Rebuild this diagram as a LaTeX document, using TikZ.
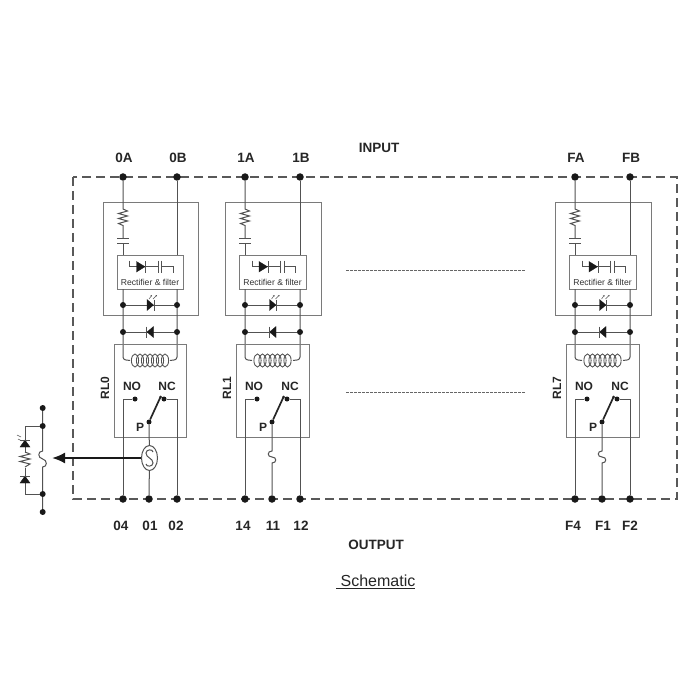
\documentclass[tikz,border=0pt]{standalone}
\usepackage{fontspec}
\setmainfont{Liberation Sans}
\usetikzlibrary{calc,arrows.meta,shapes.geometric}
\tikzset{
  wire/.style={draw=black!68,line width=1pt},
  boxs/.style={draw=black!52,line width=0.9pt},
  dot/.style={circle,fill=black!90,inner sep=0pt,minimum size=#1},
  dot/.default=7.5pt,
  lab/.style={font=\bfseries\fontsize{13.5}{15}\selectfont,text=black!85,inner sep=0pt},
  rel/.style={font=\bfseries\fontsize{12}{14}\selectfont,text=black!85,inner sep=0pt},
  tiny/.style={font=\fontsize{8.6}{10}\selectfont,text=black!80,inner sep=0pt},
  dash1/.style={draw=black!65,line width=1.2pt,dash pattern=on 9pt off 5pt},
  thin1/.style={draw=black!60,line width=0.6pt,dash pattern=on 2.5pt off 1.5pt},
  dtri/.style={fill=black!90,draw=black!90,line width=0.3pt}
}
\newcommand{\relaycol}[9]{%
  \pgfmathsetmacro{\xl}{#2-20}\pgfmathsetmacro{\xr}{#3+21}
  \pgfmathsetmacro{\xc}{(#2+#3)/2}
  \node[dot] (#1a) at (#2,177) {};
  \node[dot] (#1b) at (#3,177) {};
  \node[lab] at (#2+1,158) {#6};
  \node[lab] at (#3+1,158) {#7};
  \draw[boxs] (\xl,202) rectangle (\xr,315);
  \draw[wire] (#1a) -- (#2,209) -- (#2+4.5,211) -- (#2-4.5,213.5) -- (#2+4.5,216) -- (#2-4.5,218.5) -- (#2+4.5,221) -- (#2-4.5,223.5) -- (#2,225.5) -- (#2,239);
  \draw[wire] (#2-6,239) -- (#2+6,239) (#2-6,244) -- (#2+6,244);
  \draw[wire] (#2,244) -- (#2,255);
  \draw[wire] (#1b) -- (#3,255);
  \draw[boxs,fill=white] (#2-6,255) rectangle (#3+6,289);
  \draw[wire] (\xc-20.5,260.5) -- (\xc-20.5,266.7) -- (\xc+8,266.7) (\xc+11.5,266.7) -- (\xc+23,266.7) -- (\xc+23,273);
  \fill[dtri] (\xc-13.5,261.5) -- (\xc-5,266.7) -- (\xc-13.5,272) -- cycle;
  \draw[wire] (\xc-4.5,261) -- (\xc-4.5,272.5);
  \draw[wire] (\xc+8,260.5) -- (\xc+8,273) (\xc+11.5,260.5) -- (\xc+11.5,273);
  \node[tiny] at (\xc,282) {Rectifier \& filter};
  \draw[wire] (#2,289) -- (#2,357) to[out=-90,in=180] (#2+7,360.5);
  \draw[wire] (#3,289) -- (#3,357) to[out=-90,in=0] (#3-7,360.5);
  \node[dot=6pt] (#1la) at (#2,305) {};
  \node[dot=6pt] (#1lb) at (#3,305) {};
  \draw[wire] (#1la) -- (#1lb);
  \fill[dtri] (\xc-3,299.5) -- (\xc+3.5,305) -- (\xc-3,310.5) -- cycle;
  \draw[wire] (\xc+4,299.5) -- (\xc+4,310.5);
  \draw[wire,-{Stealth[length=1.6pt,width=1.6pt]},line width=0.5pt] (\xc-1,299) -- (\xc+2,295);
  \draw[wire,-{Stealth[length=1.6pt,width=1.6pt]},line width=0.5pt] (\xc+3,299) -- (\xc+7,295);
  \node[dot=6pt] (#1da) at (#2,332) {};
  \node[dot=6pt] (#1db) at (#3,332) {};
  \draw[wire] (#1da) -- (#1db);
  \fill[dtri] (\xc+3.5,326.5) -- (\xc-3,332) -- (\xc+3.5,337.5) -- cycle;
  \draw[wire] (\xc-3.5,326.5) -- (\xc-3.5,337.5);
  \draw[boxs] (#2-9,344) rectangle (#3+9,437);
  \foreach \i in {0,...,6} \draw[wire,line width=0.85pt] (\xc-15+\i*5,360.5) ellipse (3.6pt and 6.5pt);
  \node[rel] at (#2+9,386) {NO};
  \node[rel] at (#3-10,386) {NC};
  \node[rel,rotate=90] at (#2-18,388) {#5};
  \node[rel] at (#4-9,427) {P};
  \node[dot=5pt] (#1no) at (#2+12,399) {};
  \node[dot=5pt] (#1nc) at (#3-13,399) {};
  \node[dot=5pt] (#1p) at (#4,422) {};
  \coordinate (#1m) at (#4+11.5,397);
  \draw[wire] (#1no) -- (#2,399);
  \draw[wire] (#1nc) -- (#3,399);
  \draw[black!85,line width=1.7pt] (#1p) -- (#1m);
  \fill[black!85] (#1m) circle (1.5pt);
  \node[dot] (#1ba) at (#2,499) {};
  \node[dot] (#1bp) at (#4,499) {};
  \node[dot] (#1bb) at (#3,499) {};
  \draw[wire] (#2,399) -- (#1ba);
  \draw[wire] (#3,399) -- (#1bb);
  \node[lab] at (#2-2,526) {#8};
  \node[lab] at (#4+1,526) {#9};
}
\begin{document}
\begin{tikzpicture}[x=1pt,y=-1pt]
\useasboundingbox (0,0) rectangle (700,700);
\fill[white] (0,0) rectangle (700,700);
\draw[dash1] (73,177) rectangle (677,499);
\node[lab] at (379,148) {INPUT};
\node[lab] at (376,544.5) {OUTPUT};
\relaycol{c}{123}{177}{149}{RL0}{0A}{0B}{04}{01}
\node[lab] at (176,526) {02};
\relaycol{d}{245}{300}{272}{RL1}{1A}{1B}{14}{11}
\node[lab] at (301,526) {12};
\relaycol{e}{575}{630}{602}{RL7}{FA}{FB}{F4}{F1}
\node[lab] at (630,526) {F2};
\node[draw=black!68,line width=1pt,fill=white,ellipse,minimum width=16pt,minimum height=25pt,inner sep=0pt] (sens) at (149.5,458) {};
\draw[wire] (cp) -- (sens);
\draw[wire] (sens) -- (cbp);
\draw[wire] (153,452) .. controls (153,449) and (146,449) .. (146,453) .. controls (146,458) and (153,458) .. (153,463) .. controls (153,467) and (146,467) .. (146,464);
\foreach \n/\x in {d/272,e/602}{
  \draw[wire] (\n p) -- (\x,451) .. controls (\x-5,451) and (\x-5,457) .. (\x,457) .. controls (\x+5,457) and (\x+5,463) .. (\x,463) -- (\n bp);
}
\draw[thin1] (346,270) -- (526,270);
\draw[thin1] (346,392) -- (526,392);
\coordinate (arrtip) at (52,458);
\draw[black!90,line width=2pt,-{Latex[length=13pt,width=11pt]}] (sens.west) -- (arrtip);
\node[dot=6pt] (s1) at (42.7,408) {};
\node[dot=6pt] (s2) at (42.7,426) {};
\node[dot=6pt] (s3) at (42.7,494) {};
\node[dot=6pt] (s4) at (42.7,512) {};
\draw[wire] (s1) -- (s2) -- (42.7,451) .. controls (37.5,451) and (37.5,458) .. (42.7,459) .. controls (47.5,460) and (47.5,467) .. (42.7,467) -- (s3) -- (s4);
\draw[wire] (s2) -- (25,426) -- (25,494) -- (s3);
\fill[white] (18,453) rectangle (32,468);
\draw[wire] (25,452) -- (30,454) -- (20,456.5) -- (30,459) -- (20,461.5) -- (30,464) -- (25,467);
\fill[dtri] (25,440) -- (20,447) -- (30,447) -- cycle;
\draw[wire] (20,440) -- (30,440);
\fill[dtri] (25,476) -- (20,483) -- (30,483) -- cycle;
\draw[wire] (20,476) -- (30,476);
\draw[wire,line width=0.5pt] (22,441) -- (18,439) (21,437) -- (17,435);
\node[inner sep=0pt,font=\fontsize{16}{18}\selectfont,text=black!85] (cap) at (378,581) {Schematic};
\draw[black!85,line width=0.8pt] (336,588.5) -- (415,588.5);
\end{tikzpicture}
\end{document}
